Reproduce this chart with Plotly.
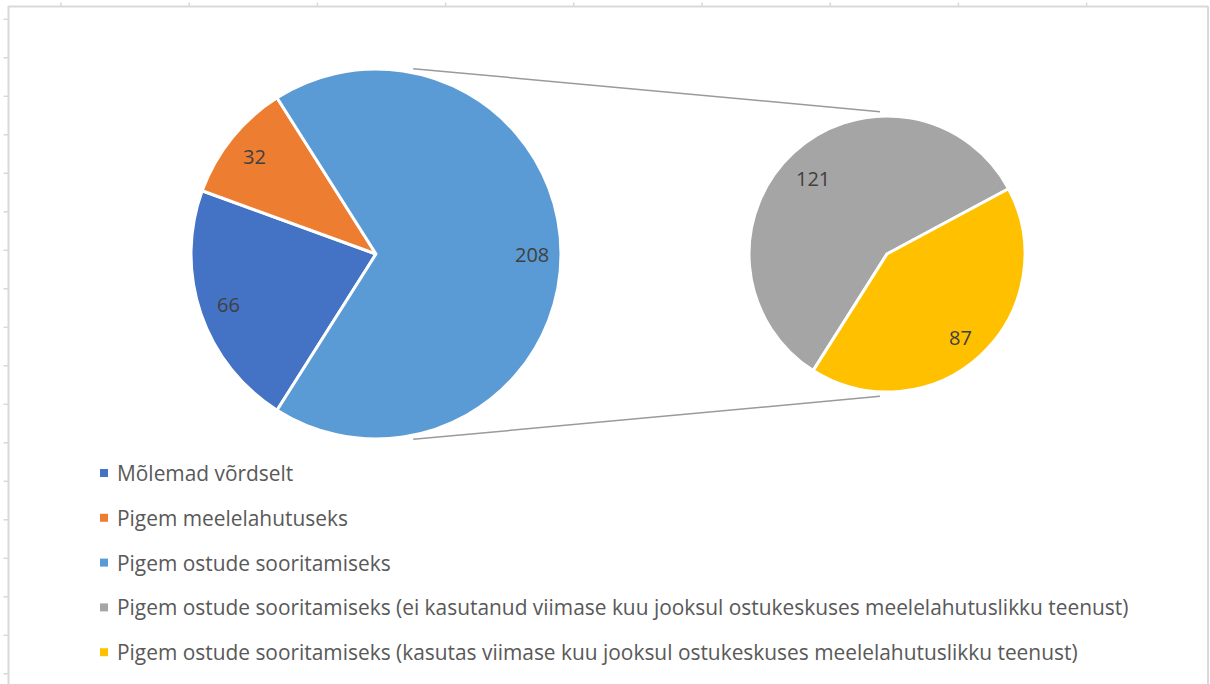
import math
import plotly.graph_objects as go

W, H = 1210, 684

# Main pie: the last category is split out into the secondary pie
main_labels = ["Mõlemad võrdselt", "Pigem meelelahutuseks", "Pigem ostude sooritamiseks"]
main_values = [66, 32, 208]
main_colors = ["#4472C4", "#ED7D31", "#5B9BD5"]

# Secondary pie: breakdown of "Pigem ostude sooritamiseks"
sub_labels = [
    "Pigem ostude sooritamiseks (ei kasutanud viimase kuu jooksul ostukeskuses meelelahutuslikku teenust)",
    "Pigem ostude sooritamiseks (kasutas viimase kuu jooksul ostukeskuses meelelahutuslikku teenust)",
]
sub_values = [121, 87]
sub_colors = ["#A5A5A5", "#FFC000"]

legend_labels = main_labels + sub_labels
legend_colors = main_colors + sub_colors

FONT = "Open Sans"
LABEL_COLOR = "#404040"
LEGEND_COLOR = "#595959"
FRAME = "#d9d9d9"


def px(x):
    return x / W


def py(y):
    return 1 - y / H


# geometry of the two pies (pixel centre, radius)
C1, R1 = (376, 254), 185
C2, R2 = (887, 254), 138

# the split slice is centred on 3 o'clock; first slice starts where it must
tot = sum(main_values)
start_deg = (main_values[-1] / 2 + sum(main_values[:-1])) / tot * 360.0
rotation = 90.0 - start_deg
if rotation < -180:
    rotation += 360


def domain(c, r):
    return dict(x=[px(c[0] - r), px(c[0] + r)], y=[py(c[1] + r), py(c[1] - r)])


fig = go.Figure()
for labels, values, colors, c, r in [
    (main_labels, main_values, main_colors, C1, R1),
    (sub_labels, sub_values, sub_colors, C2, R2),
]:
    fig.add_trace(go.Pie(
        labels=labels, values=values, sort=False, direction="clockwise",
        rotation=rotation, domain=domain(c, r), textinfo="none",
        marker=dict(colors=colors, line=dict(color="white", width=3)),
        hoverinfo="label+value", showlegend=False,
    ))

annotations = []
shapes = []


def add_value_labels(values, c, r_lab, dy=0.0):
    total = sum(values)
    cum = 0.0
    for v in values:
        mid = math.radians(start_deg - (cum + v / 2) / total * 360.0)
        cum += v
        x = c[0] + r_lab * math.cos(mid)
        y = c[1] - r_lab * math.sin(mid) + dy
        annotations.append(dict(
            x=px(x), y=py(y), xref="paper", yref="paper", text=str(v),
            showarrow=False, xanchor="center", yanchor="middle",
            font=dict(family=FONT, size=20, color=LABEL_COLOR),
        ))


add_value_labels(main_values, C1, 156)
add_value_labels(sub_values, C2, 108, dy=4)

# connector lines: outer common tangents of the two pies, trimmed at the ends
gap, trim = 3, 20
d = C2[0] - C1[0]
phi = math.acos((R1 - R2) / d)
for sgn in (1, -1):
    a = (C1[0] + (R1 + gap) * math.cos(phi), C1[1] - sgn * (R1 + gap) * math.sin(phi))
    b = (C2[0] + (R2 + gap) * math.cos(phi), C2[1] - sgn * (R2 + gap) * math.sin(phi))
    L = math.hypot(b[0] - a[0], b[1] - a[1])
    ux, uy = (b[0] - a[0]) / L, (b[1] - a[1]) / L
    shapes.append(dict(
        type="line", xref="paper", yref="paper",
        x0=px(a[0] + ux * trim), y0=py(a[1] + uy * trim),
        x1=px(b[0] - ux * trim), y1=py(b[1] - uy * trim),
        line=dict(color="#9a9a9a", width=1.5),
    ))

# legend
leg_x, leg_y0, leg_dy, sq = 104, 473, 44.8, 8
for i, (lab, col) in enumerate(zip(legend_labels, legend_colors)):
    yc = leg_y0 + i * leg_dy
    shapes.append(dict(
        type="rect", xref="paper", yref="paper",
        x0=px(leg_x - sq / 2), x1=px(leg_x + sq / 2),
        y0=py(yc + sq / 2), y1=py(yc - sq / 2),
        fillcolor=col, line=dict(width=0),
    ))
    annotations.append(dict(
        x=px(115), y=py(yc), xref="paper", yref="paper", text=lab,
        showarrow=False, xanchor="left", yanchor="middle",
        font=dict(family=FONT, size=20.9, color=LEGEND_COLOR),
    ))

# worksheet frame behind the chart
shapes.append(dict(type="line", xref="paper", yref="paper", x0=px(8), x1=px(1208),
                   y0=py(6.5), y1=py(6.5), line=dict(color=FRAME, width=2)))
shapes.append(dict(type="line", xref="paper", yref="paper", x0=px(8.5), x1=px(8.5),
                   y0=py(6), y1=py(H), line=dict(color=FRAME, width=2)))
shapes.append(dict(type="line", xref="paper", yref="paper", x0=px(1208), x1=px(1208),
                   y0=py(6), y1=py(H), line=dict(color=FRAME, width=2)))
for k in range(9):
    x = 61 + 128.2 * k
    shapes.append(dict(type="line", xref="paper", yref="paper", x0=px(x), x1=px(x),
                       y0=py(2.5), y1=py(6), line=dict(color=FRAME, width=1.5)))
for k in range(18):
    y = 19.3 + 38.5 * k
    shapes.append(dict(type="line", xref="paper", yref="paper", x0=px(3.5), x1=px(8),
                       y0=py(y), y1=py(y), line=dict(color=FRAME, width=1.5)))

fig.update_layout(
    width=W, height=H, margin=dict(l=0, r=0, t=0, b=0),
    paper_bgcolor="white", plot_bgcolor="white",
    showlegend=False, annotations=annotations, shapes=shapes,
    font=dict(family=FONT),
)

fig.write_html("out.html")
